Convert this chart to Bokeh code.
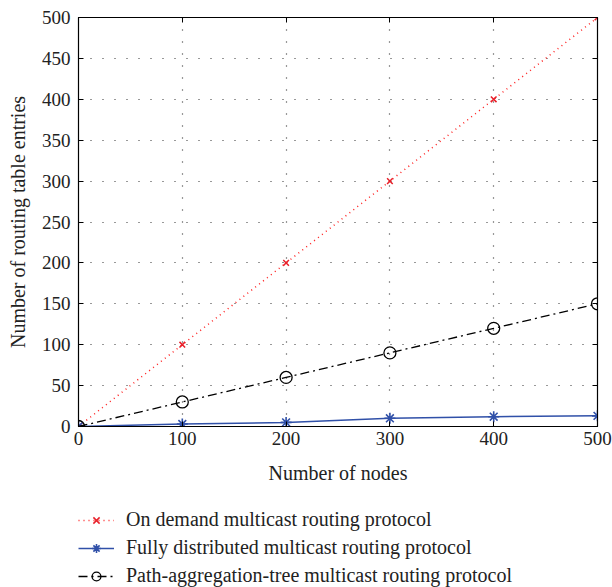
from bokeh.plotting import figure
from bokeh.layouts import column
from bokeh.models import Range1d, LinearAxis, Legend, LegendItem, FixedTicker, CustomJSTickFormatter
from bokeh.embed import file_html
from bokeh.resources import INLINE

nodes = [0, 100, 200, 300, 400, 500]
on_demand = [0, 100, 200, 300, 400, 500]
fully_distributed = [0, 3, 5, 10, 12, 13]
path_aggregation = [0, 30, 60, 90, 120, 150]
x_ticks = [0, 100, 200, 300, 400, 500]
y_ticks = [0, 50, 100, 150, 200, 250, 300, 350, 400, 450, 500]
labels = ["On demand multicast routing protocol",
          "Fully distributed multicast routing protocol",
          "Path-aggregation-tree multicast routing protocol"]

FONT = "Liberation Serif"

p = figure(width=612, height=500, output_backend="svg", toolbar_location=None,
           x_range=Range1d(0, 500), y_range=Range1d(0, 500),
           min_border_left=78, min_border_right=15, min_border_top=17, min_border_bottom=74)
p.background_fill_color = "white"
p.border_fill_color = "white"
p.outline_line_color = "black"
p.outline_line_width = 1.2

for ax in [p.xaxis[0], p.yaxis[0]]:
    ax.major_tick_in = 5
    ax.major_tick_out = 0
    ax.minor_tick_line_color = None
    ax.major_label_text_font = FONT
    ax.major_label_text_font_size = "19px"
    ax.major_label_text_color = "#222222"
    ax.axis_label_text_font = FONT
    ax.axis_label_text_font_size = "20px"
    ax.axis_label_text_font_style = "normal"
    ax.axis_label_text_color = "#222222"
    ax.axis_line_color = "black"
p.xaxis[0].ticker = FixedTicker(ticks=x_ticks)
p.yaxis[0].ticker = FixedTicker(ticks=y_ticks)
p.xaxis.axis_label = "Number of nodes"
p.yaxis.axis_label = "Number of routing table entries"
p.xaxis.major_label_standoff = 5
p.yaxis.major_label_standoff = 8
p.xaxis.axis_label_standoff = 14
p.yaxis.axis_label_standoff = 10

blank = CustomJSTickFormatter(code="return ''")
ax_top = LinearAxis(ticker=FixedTicker(ticks=x_ticks), major_tick_in=5, major_tick_out=0,
                    minor_tick_line_color=None, formatter=blank, major_label_standoff=0)
ax_right = LinearAxis(ticker=FixedTicker(ticks=y_ticks), major_tick_in=5, major_tick_out=0,
                      minor_tick_line_color=None, formatter=blank, major_label_standoff=0)
p.add_layout(ax_top, "above")
p.add_layout(ax_right, "right")

p.xgrid.ticker = FixedTicker(ticks=x_ticks)
p.ygrid.ticker = FixedTicker(ticks=y_ticks)
for g in [p.xgrid[0], p.ygrid[0]]:
    g.grid_line_color = "#333333"
    g.grid_line_dash = "1 11"
    g.grid_line_width = 1.2

STYLES = [
    dict(line=dict(line_color="#ff2020", line_dash="1 4", line_width=1.5),
         mark=dict(marker="x", size=8, line_color="#e8202a", line_width=1.5)),
    dict(line=dict(line_color="#3050a8", line_width=1.5),
         mark=dict(marker="asterisk", size=11, line_color="#3050a8", line_width=1.6)),
    dict(line=dict(line_color="black", line_dash="9 4 2 4", line_width=1.3),
         mark=dict(marker="circle", size=12, fill_color=None, line_color="black", line_width=1.3)),
]
series = [on_demand, fully_distributed, path_aggregation]

for ys, st in zip(series, STYLES):
    p.line(nodes, ys, **st["line"])
    p.scatter(nodes, ys, **st["mark"])

# legend panel below the plot (glyphs drawn off-view, only used for the legend keys)
lg = figure(width=612, height=87, output_backend="svg", toolbar_location=None,
            x_range=Range1d(10000, 10001), y_range=Range1d(10000, 10001),
            min_border=0, x_axis_type=None, y_axis_type=None)
lg.outline_line_color = None
lg.grid.visible = False
lg.background_fill_color = "white"
lg.border_fill_color = "white"
items = []
for ys, st, lab in zip(series, STYLES, labels):
    legend_mark = dict(st["mark"])
    legend_mark["size"] = max(6, legend_mark["size"] - 3)
    r_l = lg.line(nodes, ys, **st["line"])
    r_m = lg.scatter(nodes, ys, **legend_mark)
    items.append(LegendItem(label=lab, renderers=[r_l, r_m]))

legend = Legend(items=items, location=(0, 0), orientation="vertical")
legend.label_text_font = FONT
legend.label_text_font_size = "20px"
legend.label_text_color = "#222222"
legend.border_line_color = None
legend.background_fill_alpha = 0
legend.glyph_width = 36
legend.glyph_height = 22
legend.spacing = 5
legend.padding = 2
legend.margin = 0
legend.label_standoff = 12
lg.add_layout(legend)

layout = column(p, lg, spacing=0)
open("out.html", "w").write(file_html(layout, INLINE))
